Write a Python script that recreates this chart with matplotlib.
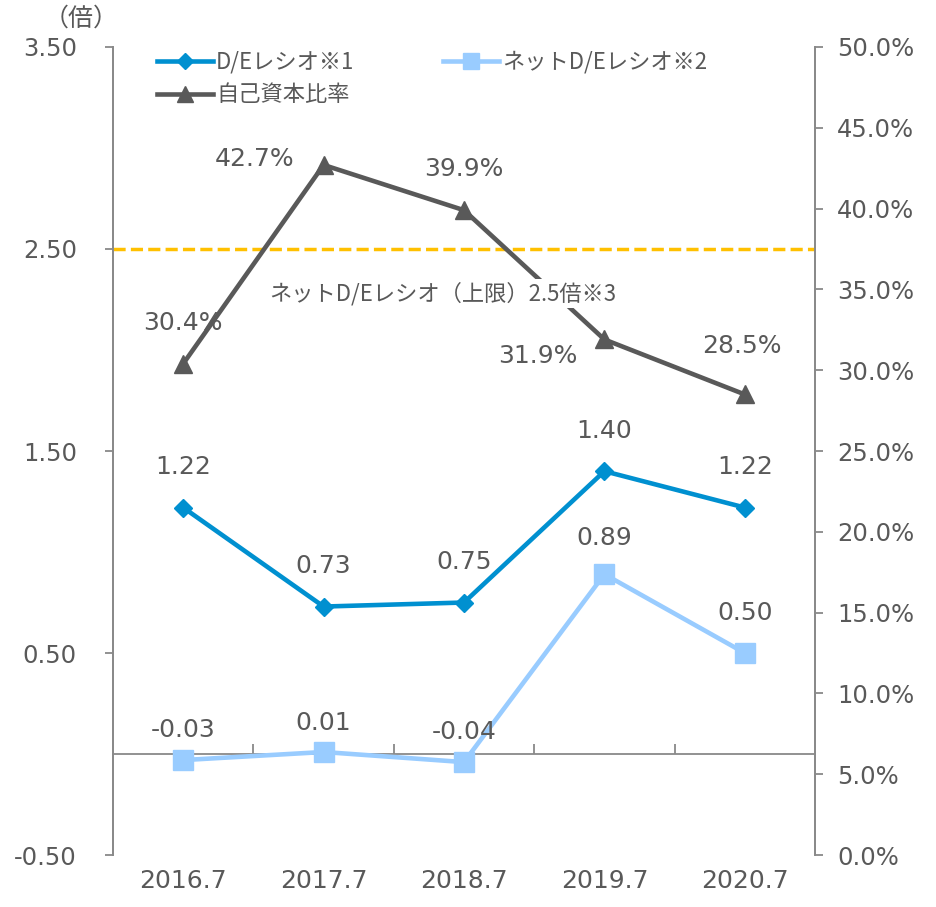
import matplotlib
matplotlib.use("Agg")
import matplotlib.pyplot as plt
from matplotlib.ticker import FuncFormatter, FixedLocator

plt.rcParams['font.family'] = ['DejaVu Sans', 'Noto Sans CJK JP']

# data
years = ['2016.7', '2017.7', '2018.7', '2019.7', '2020.7']
de_ratio = [1.22, 0.73, 0.75, 1.40, 1.22]
net_de_ratio = [-0.03, 0.01, -0.04, 0.89, 0.50]
equity_ratio = [30.4, 42.7, 39.9, 31.9, 28.5]
net_de_limit = 2.5

TXT = '#595959'
AX = '#898989'
C_DE = '#0090d0'
C_NET = '#99ccff'
C_EQ = '#595959'
C_LIM = '#ffc000'
JP = ['Noto Sans CJK JP', 'DejaVu Sans']

fig = plt.figure(figsize=(9.37, 9.07), dpi=100)
ax = fig.add_axes([0.1206, 0.0573, 0.7492, 0.8909])
ax2 = ax.twinx()

x = list(range(len(years)))

ax.plot(x, de_ratio, color=C_DE, lw=3.3, marker='D', ms=9, label='D/Eレシオ※1', zorder=4)
ax.plot(x, net_de_ratio, color=C_NET, lw=3.3, marker='s', ms=14, label='ネットD/Eレシオ※2', zorder=3)
ax.axhline(net_de_limit, color=C_LIM, lw=2.5, ls=(0, (3.5, 1.5)), zorder=2)

ax2.plot(x, equity_ratio, color=C_EQ, lw=3.3, marker='^', ms=13, label='自己資本比率', zorder=3)

# axis ranges and ticks
ax.set_xlim(-0.5, len(years) - 0.5)
ax.set_ylim(-0.5, 3.5)
ax.set_yticks([-0.5, 0.5, 1.5, 2.5, 3.5])
ax.yaxis.set_major_formatter(FuncFormatter(lambda v, p: f'{v:.2f}'))
ax2.set_ylim(0, 50)
ax2.set_yticks([i * 5 for i in range(11)])
ax2.yaxis.set_major_formatter(FuncFormatter(lambda v, p: f'{v:.1f}%'))

for a in (ax, ax2):
    a.spines['top'].set_visible(False)
    a.spines['left'].set_color(AX)
    a.spines['right'].set_color(AX)
    a.spines['left'].set_linewidth(1.3)
    a.spines['right'].set_linewidth(1.3)
ax2.spines['bottom'].set_visible(False)
ax.spines['bottom'].set_position(('data', 0))
ax.spines['bottom'].set_color(AX)
ax.spines['bottom'].set_linewidth(1.3)

ax.set_xticks(x)
ax.set_xticklabels(years)
ax.xaxis.set_minor_locator(FixedLocator([i + 0.5 for i in range(len(years) - 1)]))
ax.tick_params(axis='x', which='major', length=0, pad=83, labelsize=18, labelcolor=TXT)
ax.tick_params(axis='x', which='minor', direction='in', length=7, color=AX, width=1.3)
ax.tick_params(axis='y', length=6, color=AX, width=1.3, labelsize=17.5, labelcolor=TXT, pad=20)
ax2.tick_params(axis='y', length=6, color=AX, width=1.3, labelsize=17.5, labelcolor=TXT, pad=10)

fig.text(0.087, 0.979, '（倍）', color=TXT, fontsize=18, ha='center', va='center', family=JP)

# data labels
for xi, v in zip(x, de_ratio):
    ax.annotate(f'{v:.2f}', (xi, v), xytext=(0, 29), textcoords='offset points',
                ha='center', va='center', color=TXT, fontsize=18)
net_offsets = [22, 21, 22, 26, 29]
for xi, v, dy in zip(x, net_de_ratio, net_offsets):
    ax.annotate(f'{v:.2f}', (xi, v), xytext=(0, dy), textcoords='offset points',
                ha='center', va='center', color=TXT, fontsize=18)
eq_offsets = [(0, 29), (-50, 4), (0, 30), (-48, -12), (-2, 35)]
for xi, v, off in zip(x, equity_ratio, eq_offsets):
    ax2.annotate(f'{v:.1f}%', (xi, v), xytext=off, textcoords='offset points',
                 ha='center', va='center', color=TXT, fontsize=18)

ax2.text(1.85, 2.28, 'ネットD/Eレシオ（上限）2.5倍※3', transform=ax.transData,
         ha='center', va='center', color=TXT, fontsize=16, family=JP,
         bbox=dict(facecolor='white', edgecolor='none', pad=2), zorder=5)

h1, l1 = ax.get_legend_handles_labels()
h2, l2 = ax2.get_legend_handles_labels()
handles = [h1[0], h2[0], h1[1]]
labels = [l1[0], l2[0], l1[1]]
leg = ax2.legend(handles, labels, ncol=2, loc='upper left',
                 bbox_to_anchor=(0.1676, 0.9445), bbox_transform=fig.transFigure,
                 frameon=False, borderpad=0, borderaxespad=0, handlelength=2.5,
                 handletextpad=0.15, columnspacing=4.0, labelspacing=0.45,
                 markerscale=0.85, prop={'family': JP, 'size': 16})
for t in leg.get_texts():
    t.set_color(TXT)

fig.savefig('out.png', dpi=100)
